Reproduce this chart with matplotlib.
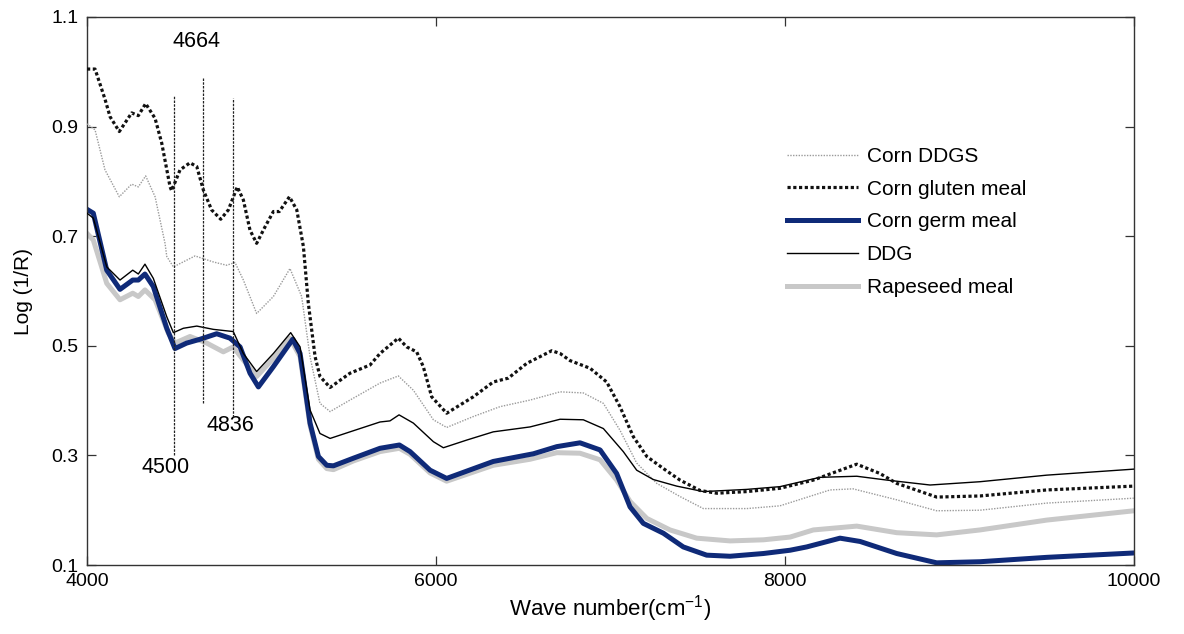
import matplotlib
matplotlib.use("Agg")
import matplotlib.pyplot as plt

plt.rcParams['font.family'] = ['Liberation Sans', 'DejaVu Sans']
plt.rcParams['mathtext.default'] = 'regular'

# ---- data ----
gluten_x = [4000, 4046, 4103, 4132, 4185, 4256, 4294, 4336, 4390, 4428, 4476, 4485, 4533, 4590, 4629,
            4667, 4714, 4766, 4810, 4861, 4896, 4934, 4972, 5020, 5068, 5102, 5160, 5202, 5240, 5268,
            5307, 5335, 5393, 5507, 5622, 5679, 5784, 5832, 5889, 5927, 5975, 6061, 6214, 6328, 6414,
            6520, 6663, 6711, 6768, 6883, 6978, 7054, 7131, 7208, 7303, 7398, 7513, 7609, 7781, 7971,
            8162, 8411, 8544, 8640, 8869, 9117, 9500, 10000]
gluten_y = [1.005, 1.005, 0.950, 0.918, 0.891, 0.925, 0.920, 0.942, 0.915, 0.870, 0.790, 0.783, 0.821, 0.834, 0.827,
            0.784, 0.748, 0.731, 0.748, 0.790, 0.766, 0.711, 0.687, 0.717, 0.745, 0.745, 0.772, 0.748, 0.681, 0.578,
            0.480, 0.444, 0.424, 0.450, 0.465, 0.486, 0.514, 0.498, 0.489, 0.462, 0.407, 0.377, 0.407, 0.434, 0.441,
            0.468, 0.491, 0.486, 0.473, 0.459, 0.434, 0.389, 0.334, 0.298, 0.276, 0.255, 0.236, 0.231, 0.234, 0.240,
            0.255, 0.284, 0.267, 0.249, 0.224, 0.226, 0.237, 0.244]

ddgs_x = [4000, 4046, 4103, 4185, 4256, 4294, 4336, 4390, 4447, 4457, 4495, 4619, 4724, 4800, 4848, 4896,
          4972, 5068, 5163, 5230, 5278, 5335, 5393, 5507, 5679, 5784, 5870, 5985, 6061, 6214, 6367, 6539,
          6711, 6844, 6959, 7054, 7150, 7265, 7398, 7532, 7781, 7971, 8258, 8390, 8640, 8869, 9117, 9500, 10000]
ddgs_y = [0.905, 0.894, 0.821, 0.772, 0.795, 0.790, 0.810, 0.772, 0.687, 0.663, 0.644, 0.664, 0.653, 0.647, 0.652, 0.620,
          0.559, 0.590, 0.641, 0.590, 0.480, 0.395, 0.380, 0.401, 0.432, 0.445, 0.419, 0.365, 0.351, 0.371, 0.389, 0.401,
          0.416, 0.414, 0.395, 0.346, 0.286, 0.249, 0.225, 0.203, 0.203, 0.208, 0.237, 0.239, 0.219, 0.199, 0.200, 0.213, 0.222]

ddg_x = [4000, 4036, 4113, 4189, 4262, 4294, 4332, 4380, 4457, 4495, 4552, 4629, 4724, 4838, 4896, 4972,
         5068, 5167, 5221, 5278, 5335, 5393, 5507, 5679, 5736, 5788, 5870, 5985, 6042, 6176, 6328, 6539,
         6711, 6844, 6959, 7073, 7150, 7245, 7379, 7532, 7781, 7971, 8200, 8411, 8583, 8831, 9117, 9500, 10000]
ddg_y = [0.742, 0.733, 0.644, 0.620, 0.638, 0.631, 0.649, 0.623, 0.553, 0.524, 0.532, 0.536, 0.530, 0.526, 0.486, 0.453,
         0.486, 0.524, 0.498, 0.383, 0.340, 0.331, 0.343, 0.361, 0.363, 0.374, 0.359, 0.325, 0.314, 0.328, 0.343, 0.352,
         0.366, 0.365, 0.349, 0.307, 0.273, 0.256, 0.244, 0.234, 0.238, 0.243, 0.260, 0.262, 0.255, 0.246, 0.252, 0.264, 0.275]

germ_x = [4000, 4036, 4113, 4189, 4262, 4294, 4332, 4380, 4457, 4504, 4571, 4648, 4743, 4819, 4877, 4934,
          4982, 5068, 5179, 5221, 5278, 5326, 5374, 5412, 5527, 5679, 5790, 5851, 5966, 6061, 6328, 6558,
          6692, 6825, 6940, 7035, 7112, 7188, 7303, 7417, 7551, 7685, 7876, 8029, 8124, 8315, 8430, 8640,
          8869, 9117, 9500, 10000]
germ_y = [0.749, 0.742, 0.638, 0.603, 0.620, 0.620, 0.631, 0.608, 0.532, 0.495, 0.505, 0.512, 0.522, 0.514, 0.498, 0.450,
          0.425, 0.462, 0.512, 0.486, 0.359, 0.298, 0.282, 0.281, 0.295, 0.313, 0.319, 0.307, 0.273, 0.258, 0.289, 0.303,
          0.316, 0.323, 0.310, 0.267, 0.206, 0.176, 0.158, 0.133, 0.118, 0.116, 0.121, 0.127, 0.133, 0.149, 0.143, 0.121,
          0.104, 0.106, 0.114, 0.122]

rape_x = [4000, 4036, 4113, 4189, 4262, 4294, 4332, 4390, 4466, 4504, 4590, 4686, 4781, 4838, 4896, 4972,
          5068, 5163, 5221, 5278, 5326, 5374, 5412, 5527, 5679, 5790, 5851, 5966, 6061, 6328, 6539, 6692,
          6825, 6940, 7035, 7112, 7208, 7341, 7494, 7685, 7876, 8029, 8162, 8411, 8640, 8869, 9117, 9500, 10000]
rape_y = [0.705, 0.693, 0.614, 0.584, 0.596, 0.590, 0.602, 0.584, 0.523, 0.505, 0.517, 0.505, 0.489, 0.498, 0.474, 0.444,
          0.477, 0.514, 0.480, 0.355, 0.293, 0.276, 0.274, 0.290, 0.307, 0.313, 0.302, 0.268, 0.253, 0.282, 0.293, 0.305,
          0.304, 0.292, 0.255, 0.216, 0.185, 0.164, 0.149, 0.144, 0.146, 0.151, 0.164, 0.171, 0.159, 0.155, 0.164, 0.182, 0.199]

series_labels = ["Corn DDGS", "Corn gluten meal", "Corn germ meal", "DDG", "Rapeseed meal"]

marker_lines = [4500, 4664, 4836]
marker_top = [0.958, 0.990, 0.952]
marker_bottom = [0.300, 0.396, 0.370]

x_ticks = [4000, 6000, 8000, 10000]
y_ticks = [0.1, 0.3, 0.5, 0.7, 0.9, 1.1]

# ---- figure ----
fig = plt.figure(figsize=(11.84, 6.34), dpi=100)
ax = fig.add_axes([0.0735, 0.1088, 0.8843, 0.8644])

ax.plot(ddgs_x, ddgs_y, color='#9a9a9a', lw=1.0, ls=(0, (1, 1)), label=series_labels[0], zorder=3)
ax.plot(gluten_x, gluten_y, color='#111111', lw=2.3, ls=(0, (1, 0.8)), label=series_labels[1], zorder=4)
ax.plot(germ_x, germ_y, color='#0f2a78', lw=3.6, label=series_labels[2], zorder=2.5)
ax.plot(ddg_x, ddg_y, color='#000000', lw=1.0, label=series_labels[3], zorder=3)
ax.plot(rape_x, rape_y, color='#c8c8c8', lw=3.6, label=series_labels[4], zorder=2)

for xv, yt, yb in zip(marker_lines, marker_top, marker_bottom):
    ax.plot([xv, xv], [yb, yt], color='#222222', lw=0.9, ls=(0, (2, 1)), zorder=5)

ax.text(4630, 1.055, "4664", fontsize=15.5, ha='center', va='center')
ax.text(4451, 0.278, "4500", fontsize=15.5, ha='center', va='center')
ax.text(4823, 0.354, "4836", fontsize=15.5, ha='center', va='center')

ax.set_xlim(4000, 10000)
ax.set_ylim(0.1, 1.1)
ax.set_xticks(x_ticks)
ax.set_yticks(y_ticks)
ax.set_xticklabels([str(v) for v in x_ticks])
ax.set_yticklabels([f"{v:.1f}" for v in y_ticks])
ax.tick_params(direction='in', top=True, right=True, length=6.5, width=0.9,
               labelsize=14, color='#333333', pad=6)
for s in ax.spines.values():
    s.set_color('#333333')
    s.set_linewidth(1.0)

ax.set_xlabel("Wave number(cm$^{-1}$)", fontsize=16)
ax.set_ylabel("Log (1/R)", fontsize=15)
ax.xaxis.set_label_coords(0.5, -0.052)
ax.yaxis.set_label_coords(-0.052, 0.5)

leg = ax.legend(loc='upper left', bbox_to_anchor=(0.661, 0.778), frameon=False, fontsize=15,
                handlelength=3.4, labelspacing=0.66, handletextpad=0.4, borderaxespad=0)

fig.savefig("out.png", dpi=100)
